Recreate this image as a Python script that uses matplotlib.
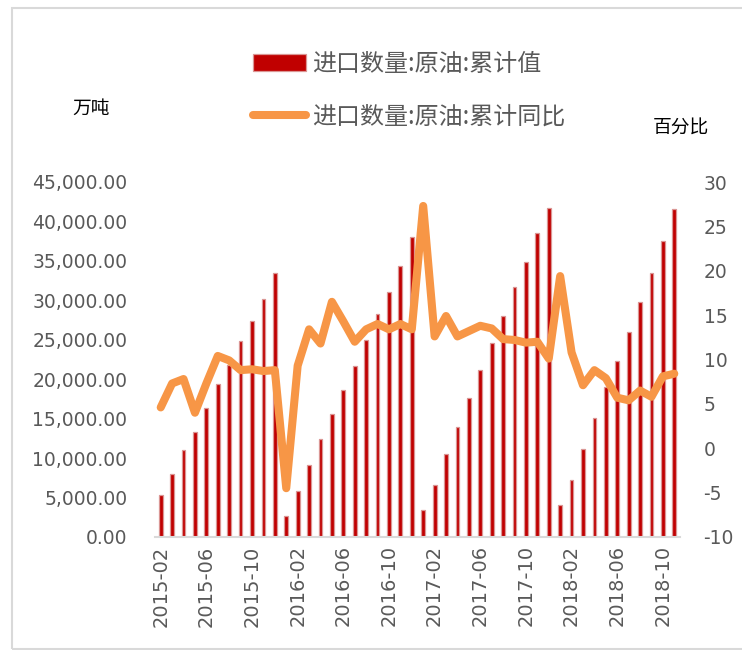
import numpy as np
import pandas as pd
import matplotlib
matplotlib.use("Agg")
import matplotlib.pyplot as plt
from matplotlib.patches import Rectangle
from matplotlib.ticker import FuncFormatter

CJK = ["Noto Sans CJK SC", "DejaVu Sans"]
plt.rcParams["font.family"] = CJK
plt.rcParams["axes.unicode_minus"] = False

# monthly, 2015-02 .. 2018-11
MONTHS = [str(p) for p in pd.period_range("2015-02", "2018-11", freq="M")]

# 进口数量:原油:累计值 (万吨)
CUM_VALUE = [
    5320, 7990, 11030, 13350, 16310, 19350, 21800, 24850, 27420, 30130, 33420,
    2660, 5830, 9130, 12390, 15550, 18630, 21680, 24970, 28270, 31100, 34350, 38070,
    3420, 6590, 10480, 13900, 17580, 21170, 24630, 28050, 31730, 34800, 38500, 41740,
    4060, 7230, 11120, 15040, 18970, 22350, 25950, 29750, 33420, 37520, 41580,
]
# 进口数量:原油:累计同比 (%)
CUM_YOY = [
    4.6, 7.3, 7.8, 4.0, 7.3, 10.4, 9.9, 8.8, 8.9, 8.7, 8.8,
    -4.5, 9.3, 13.4, 11.8, 16.5, 14.3, 12.0, 13.4, 14.0, 13.4, 14.0, 13.4,
    27.3, 12.6, 14.9, 12.6, 13.2, 13.8, 13.5, 12.3, 12.2, 11.9, 12.0, 10.1,
    19.4, 10.8, 7.1, 8.8, 7.9, 5.7, 5.4, 6.5, 5.8, 8.1, 8.4,
]

LABEL_BAR = "进口数量:原油:累计值"
LABEL_LINE = "进口数量:原油:累计同比"

BAR_COLOR = "#C00000"
BAR_EDGE = "#DA9694"
LINE_COLOR = "#F79646"
TICK_GREY = "#595959"
AXIS_GREY = "#D9D9D9"

W, H = 742, 650
fig = plt.figure(figsize=(W / 100, H / 100), dpi=100)

# outer chart frame
fig.add_artist(Rectangle((12 / W, 1 - 649 / H), 1.0, (649 - 8) / H,
                         transform=fig.transFigure, fill=False,
                         edgecolor=AXIS_GREY, lw=1.5))

left, right, top, bottom = 155, 680, 182, 537
ax = fig.add_axes([left / W, 1 - bottom / H, (right - left) / W, (bottom - top) / H])
ax2 = ax.twinx()

x = np.arange(len(MONTHS))
bars = ax.bar(x, CUM_VALUE, width=0.33, color=BAR_COLOR, edgecolor=BAR_EDGE,
              linewidth=0.9, label=LABEL_BAR)
line, = ax2.plot(x, CUM_YOY, color=LINE_COLOR, lw=5.8, solid_joinstyle="round",
                 solid_capstyle="round", label=LABEL_LINE)

ax.set_xlim(-0.5, len(MONTHS) - 0.5)
ax.set_ylim(0, 45000)
ax.set_yticks(np.arange(0, 45001, 5000))
ax.yaxis.set_major_formatter(FuncFormatter(lambda v, _: f"{v:,.2f}"))
ax2.set_ylim(-10, 30)
ax2.set_yticks(np.arange(-10, 31, 5))

tick_idx = list(range(0, len(MONTHS), 4))
ax.set_xticks(tick_idx)
ax.set_xticklabels([MONTHS[i] for i in tick_idx], rotation=90)

for a in (ax, ax2):
    for s in a.spines.values():
        s.set_visible(False)
ax.spines["bottom"].set_visible(True)
ax.spines["bottom"].set_color(AXIS_GREY)
ax.spines["bottom"].set_linewidth(1.5)

ax.tick_params(axis="y", length=0, pad=20, labelsize=13.5, labelcolor=TICK_GREY)
ax.tick_params(axis="x", length=0, pad=6, labelsize=14, labelcolor=TICK_GREY)
ax2.tick_params(axis="y", length=0, pad=17, labelsize=13.5, labelcolor=TICK_GREY)
for lab in ax.get_xticklabels() + ax.get_yticklabels() + ax2.get_yticklabels():
    lab.set_family("DejaVu Sans")

# unit labels
fig.text(91 / W, 1 - 108 / H, "万吨", ha="center", va="center", fontsize=13.5,
         color="black")
fig.text(681 / W, 1 - 128 / H, "百分比", ha="center", va="center", fontsize=13.5,
         color="black")

fig.legend([bars, line], [LABEL_BAR, LABEL_LINE], loc="upper left",
           bbox_to_anchor=(253 / W, 1 - 51 / H), frameon=False, fontsize=17.3,
           labelcolor=TICK_GREY, handlelength=2.2, handletextpad=0.25,
           labelspacing=1.1, borderpad=0, borderaxespad=0)

fig.savefig("out.png", dpi=100)
